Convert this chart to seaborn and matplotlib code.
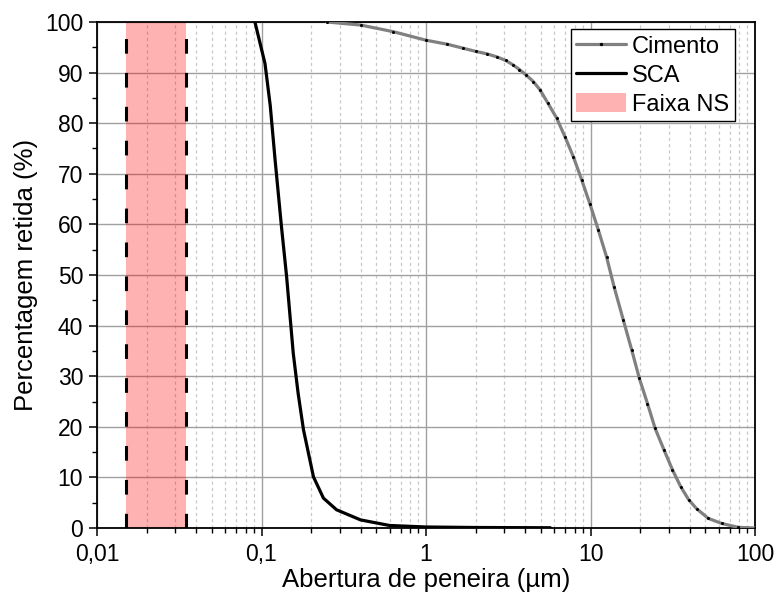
import matplotlib
matplotlib.use("Agg")
import matplotlib.pyplot as plt
import seaborn as sns
import pandas as pd
from matplotlib.ticker import FixedLocator, FixedFormatter, LogLocator, MultipleLocator, NullFormatter
from matplotlib.patches import Patch

# ---- data ----
cimento_x = [0.25, 0.4, 0.63, 1.0, 1.35, 1.69, 2.0, 2.35, 2.7, 3.05, 3.39, 3.7, 4.07,
             4.5, 4.93, 5.5, 6.23, 7.0, 7.86, 8.84,
             9.93, 11.16, 12.54, 13.9, 15.83, 17.8, 19.8, 22.2, 24.7, 28.0, 31.5, 35.3,
             39.5, 44.2, 52.0, 62.7, 79.2, 100.0]
cimento_y = [100.0, 99.4, 98.1, 96.4, 95.6, 94.8, 94.2, 93.7, 93.1, 92.4, 91.5, 90.6, 89.5,
             88.2, 86.6, 84.0, 81.0, 77.3, 73.4, 68.8,
             64.0, 58.9, 53.5, 47.7, 41.1, 35.2, 29.6, 24.6, 19.7, 15.4, 11.5, 8.2,
             5.6, 3.8, 1.9, 0.9, 0.13, 0.0]

sca_x = [0.0912, 0.105, 0.113, 0.121, 0.132, 0.142, 0.156, 0.167, 0.180, 0.207, 0.238,
         0.286, 0.40, 0.60, 1.0, 2.0, 5.7]
sca_y = [100.0, 91.8, 83.5, 72.7, 59.8, 49.8, 34.5, 26.6, 19.4, 10.1, 5.9,
         3.6, 1.6, 0.5, 0.2, 0.1, 0.05]

ns_range = [0.015, 0.035]

x_ticks = [0.01, 0.1, 1, 10, 100]
x_tick_labels = ["0,01", "0,1", "1", "10", "100"]
y_ticks = list(range(0, 101, 10))

series_labels = ["Cimento", "SCA", "Faixa NS"]

# ---- style ----
sns.set_theme(style="ticks")
plt.rcParams['font.family'] = ['Liberation Sans', 'DejaVu Sans']
plt.rcParams['text.color'] = 'black'
plt.rcParams['axes.labelcolor'] = 'black'
plt.rcParams['xtick.color'] = 'black'
plt.rcParams['ytick.color'] = 'black'

fig = plt.figure(figsize=(7.76, 5.99), dpi=100)
ax = fig.add_axes([97 / 776, 71 / 599, 658 / 776, 506 / 599])

df_c = pd.DataFrame({"x": cimento_x, "y": cimento_y})
df_s = pd.DataFrame({"x": sca_x, "y": sca_y})

# NS band
ax.axvspan(ns_range[0], ns_range[1], facecolor=(1, 0, 0, 0.3), lw=0, zorder=1)
for xv in ns_range:
    ax.axvline(xv, color='black', lw=2.2, ls=(0, (4.8, 6.3)), zorder=3)

sns.lineplot(data=df_c, x="x", y="y", ax=ax, color='#808080', lw=2.3,
             marker='o', markersize=1.4, markerfacecolor='black',
             markeredgecolor='black', estimator=None, zorder=4)
sns.lineplot(data=df_s, x="x", y="y", ax=ax, color='black', lw=2.3,
             estimator=None, zorder=5)

ax.set_xscale('log')
ax.set_xlim(0.01, 100)
ax.set_ylim(0, 100)

ax.xaxis.set_major_locator(FixedLocator(x_ticks))
ax.xaxis.set_major_formatter(FixedFormatter(x_tick_labels))
ax.xaxis.set_minor_locator(LogLocator(base=10, subs=range(2, 10), numticks=20))
ax.xaxis.set_minor_formatter(NullFormatter())
ax.yaxis.set_major_locator(FixedLocator(y_ticks))
ax.yaxis.set_minor_locator(MultipleLocator(5))

ax.grid(which='major', color='#a0a0a0', lw=1.0, ls='-', zorder=0)
ax.grid(which='minor', axis='x', color='#c8c8c8', lw=0.9, ls=(0, (2.5, 2.5)), zorder=0)
ax.set_axisbelow(True)

for s in ax.spines.values():
    s.set_visible(True)
    s.set_color('black')
    s.set_linewidth(1.3)

ax.tick_params(which='major', direction='out', length=6, width=1.1, colors='black',
               labelsize=16.5, top=False, right=False)
ax.tick_params(which='minor', direction='out', length=3.5, width=1.0, colors='black',
               top=False, right=False)
ax.tick_params(axis='x', which='major', pad=5)
ax.tick_params(axis='y', which='major', pad=4)

ax.set_xlabel("Abertura de peneira (µm)", fontsize=18.5, labelpad=1, color='black')
ax.set_ylabel("Percentagem retida (%)", fontsize=18.5, labelpad=5, color='black')

handles = [
    plt.Line2D([], [], color='#808080', lw=2.3, marker='o', markersize=1.4,
               markerfacecolor='black', markeredgecolor='black'),
    plt.Line2D([], [], color='black', lw=2.3),
    Patch(facecolor=(1, 0, 0, 0.3), edgecolor='none'),
]
leg = ax.legend(handles, series_labels, loc='upper right',
                bbox_to_anchor=((735 - 97) / 658, (528 - 29) / 506),
                borderaxespad=0, fontsize=17, frameon=True, fancybox=False,
                edgecolor='black', framealpha=1, handlelength=2.1,
                handleheight=0.9, handletextpad=0.25, labelspacing=0.25,
                borderpad=0.25, numpoints=1, labelcolor='black')
leg.get_frame().set_linewidth(1.0)

fig.savefig("out.png", dpi=100)
